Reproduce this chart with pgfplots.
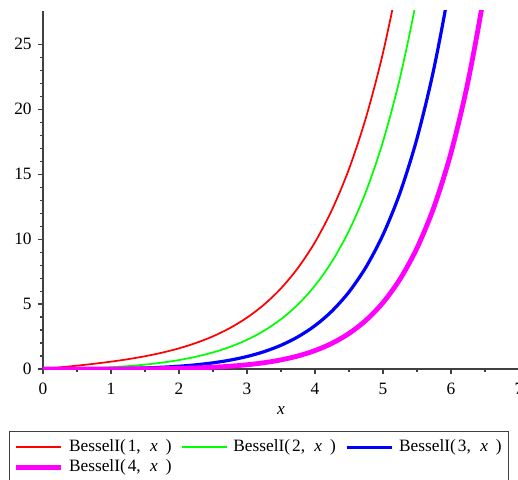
\documentclass[border=0pt]{standalone}
\usepackage{pgfplots}
\pgfplotsset{compat=1.18}
\usepackage{fontspec}
\setmainfont{Liberation Serif}
\definecolor{mred}{RGB}{255,0,0}
\definecolor{mgreen}{RGB}{0,255,0}
\definecolor{mblue}{RGB}{0,0,255}
\definecolor{mmag}{RGB}{255,0,255}
\newcommand{\bes}[1]{BesselI(\hspace{1.5pt}#1,\hspace{7pt}\textit{x}\hspace{6pt})}
\begin{document}
\fontsize{13pt}{15pt}\selectfont
\begin{tikzpicture}
\begin{axis}[
  scale only axis, width=357pt, height=268.5pt,
  xmin=0, xmax=7, ymin=0, ymax=27.55,
  axis lines=left,
  axis line style={-, black!75, line width=0.8pt},
  tick align=outside,
  major tick length=4pt, minor tick length=2.5pt,
  every tick/.style={black!75, line width=0.8pt},
  xtick={0,1,...,7}, ytick={0,5,...,25},
  minor x tick num=1, minor y tick num=4,
  /pgf/number format/assume math mode=true,
  tick label style={font=\fontsize{13pt}{15pt}\selectfont},
  xticklabel style={yshift=-2pt},
  xlabel={\textit{x}},
  xlabel style={at={(axis description cs:0.5,0)}, anchor=center, yshift=-31pt},
  legend columns=3,
  legend cell align=left,
  legend image code/.code={\draw[#1, line cap=butt] (0pt,0pt) -- (34pt,0pt); \path (36pt,0pt);},
  legend style={at={(-0.0714,-0.1732)}, anchor=north west,
    draw=black!75, line width=0.8pt, font=\fontsize{13pt}{15pt}\selectfont,
    inner xsep=3pt, inner ysep=4.3pt,
    nodes={inner ysep=2pt},
    /tikz/every even column/.append style={column sep=5pt}},
]
\addplot[draw=mred, line width=1.3pt, smooth] coordinates {
(0,0) (0.25,0.125979) (0.5,0.25789) (0.75,0.401992) (1,0.56516) (1.25,0.755281)
(1.5,0.98167) (1.75,1.255538) (2,1.59064) (2.25,2.003967) (2.5,2.51672) (2.75,3.155411)
(3,3.95337) (3.25,4.9532) (3.5,6.20583) (3.75,7.7825) (4,9.75947) (4.25,12.255)
(4.5,15.3892) (4.75,19.352) (5,24.3356) (5.25,30.644) (5.5,38.5872)};
\addlegendentry{\bes{1}}
\addplot[draw=mgreen, line width=1.3pt, smooth] coordinates {
(0,0) (0.25,0.007853) (0.5,0.03191) (0.75,0.073667) (1,0.13575) (1.25,0.222018)
(1.5,0.33783) (1.75,0.490352) (2,0.68895) (2.25,0.945774) (2.5,1.27646) (2.75,1.701070)
(3,2.24521) (3.25,2.9417) (3.5,3.83201) (3.75,4.9697) (4,6.42216) (4.25,8.2760)
(4.5,10.6416) (4.75,13.658) (5,17.5057) (5.25,22.411) (5.5,28.6629) (5.75,36.64) (6,46.7871)};
\addlegendentry{\bes{2}}
\addplot[draw=mblue, line width=2.4pt, smooth] coordinates {
(0,0) (0.25,0.000327) (0.5,0.00265) (0.75,0.009102) (1,0.02217) (1.25,0.044822)
(1.5,0.08079) (1.75,0.134733) (2,0.21274) (2.25,0.322591) (2.5,0.47438) (2.75,0.681131)
(3,0.95976) (3.25,1.3321) (3.5,1.82639) (3.75,2.4793) (4,3.33731) (4.25,4.4615)
(4.5,5.93000) (4.75,7.8434) (5,10.3310) (5.25,13.558) (5.5,17.7415) (5.75,23.154)
(6,30.1505) (6.25,39.19) (6.5,50.8291)};
\addlegendentry{\bes{3}}
\addplot[draw=mmag, line width=3.6pt, smooth] coordinates {
(0,0) (0.25,0.00001) (0.5,0.00016) (0.75,0.000847) (1,0.00274) (1.25,0.006871)
(1.5,0.01467) (1.75,0.028412) (2,0.05073) (2.25,0.085530) (2.5,0.13795) (2.75,0.214973)
(3,0.32569) (3.25,0.48236) (3.5,0.70106) (3.75,1.00299) (4,1.41619) (4.25,1.9774)
(4.5,2.73493) (4.75,3.7513) (5,5.1085) (5.25,6.9146) (5.5,9.3085) (5.75,12.470)
(6,16.6366) (6.25,22.114) (6.5,29.3017) (6.75,38.71) (7,51.0033)};
\addlegendentry{\bes{4}}
\end{axis}
\pgfresetboundingbox
\path[use as bounding box] (-32.25pt,-82.5pt) rectangle (356.25pt,276.75pt);
\end{tikzpicture}
\end{document}
